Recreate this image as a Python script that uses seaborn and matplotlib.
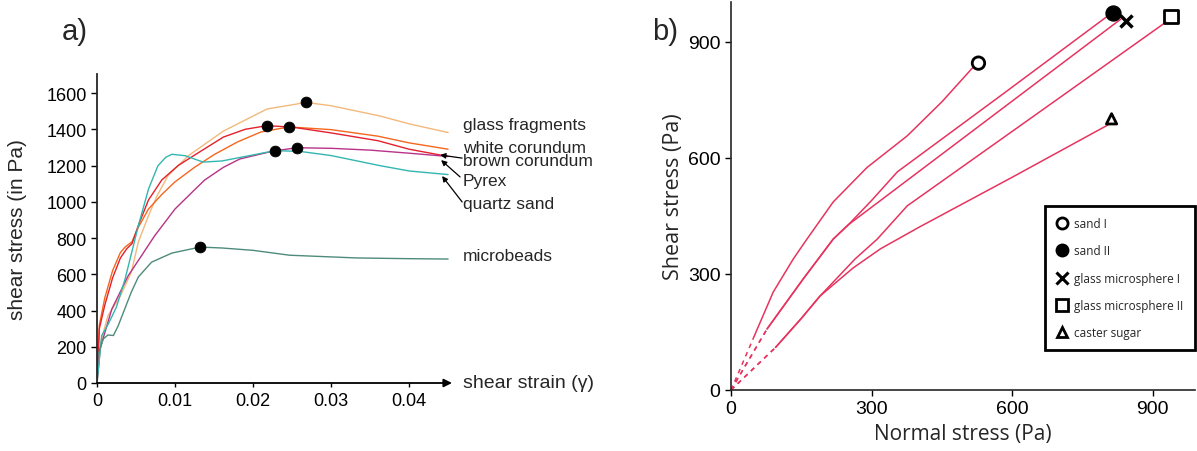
import numpy as np
import pandas as pd
import matplotlib.pyplot as plt
import seaborn as sns
from matplotlib.lines import Line2D

sns.set_style("ticks")
plt.rcParams["font.family"] = ["Liberation Sans", "DejaVu Sans"]

# ---------- panel a: shear stress vs shear strain ----------
glass_x = [0, 0.0005, 0.0014, 0.003, 0.0044, 0.0053, 0.0066, 0.0077, 0.0091, 0.0117,
           0.0162, 0.0218, 0.0268, 0.030, 0.0363, 0.040, 0.045]
glass_y = [0, 230, 371, 480, 612, 778, 923, 1033, 1144, 1254,
           1390, 1512, 1548, 1530, 1473, 1430, 1382]

white_x = [0, 0.0003, 0.001, 0.002, 0.003, 0.0036, 0.0045, 0.0053, 0.0066, 0.0083,
           0.010, 0.0125, 0.015, 0.018, 0.021, 0.0246, 0.030, 0.036, 0.040, 0.045]
white_y = [0, 320, 470, 620, 720, 750, 780, 860, 960, 1040,
           1110, 1190, 1260, 1330, 1385, 1413, 1398, 1362, 1325, 1290]

brown_x = [0, 0.0003, 0.001, 0.002, 0.003, 0.0038, 0.0045, 0.0053, 0.0066, 0.0083,
           0.0104, 0.0126, 0.0162, 0.019, 0.0218, 0.025, 0.030, 0.036, 0.040, 0.045]
brown_y = [0, 300, 430, 580, 690, 740, 770, 870, 1010, 1120,
           1200, 1260, 1357, 1400, 1420, 1412, 1380, 1337, 1290, 1250]

pyrex_x = [0, 0.0004, 0.0019, 0.004, 0.0057, 0.0074, 0.010, 0.0126, 0.0138, 0.0162,
           0.0183, 0.0226, 0.0256, 0.030, 0.035, 0.040, 0.045]
pyrex_y = [0, 190, 408, 592, 702, 813, 960, 1070, 1120, 1190,
           1236, 1280, 1298, 1295, 1285, 1268, 1250]

quartz_x = [0, 0.0006, 0.0015, 0.0025, 0.0036, 0.0053, 0.0066, 0.0078, 0.0088, 0.0096,
            0.0113, 0.0136, 0.016, 0.019, 0.0228, 0.026, 0.030, 0.0363, 0.040, 0.045]
quartz_y = [0, 261, 330, 420, 574, 868, 1070, 1198, 1245, 1262,
            1254, 1219, 1225, 1250, 1282, 1278, 1255, 1199, 1170, 1150]

micro_x = [0, 0.0001, 0.0008, 0.0014, 0.0021, 0.0027, 0.0044, 0.0053, 0.007, 0.0096,
           0.0132, 0.016, 0.020, 0.0247, 0.0333, 0.040, 0.045]
micro_y = [0, 149, 243, 265, 262, 314, 502, 585, 667, 717,
           750, 745, 732, 705, 690, 686, 684]

curves_a = {
    "glass fragments": (glass_x, glass_y, "#f2b97c"),
    "white corundum": (white_x, white_y, "#f5661e"),
    "brown corundum": (brown_x, brown_y, "#e3202c"),
    "Pyrex": (pyrex_x, pyrex_y, "#b83287"),
    "quartz sand": (quartz_x, quartz_y, "#33b6b0"),
    "microbeads": (micro_x, micro_y, "#4d8b7b"),
}
# label y positions (Pa) for the curve names at the right
label_y = {"glass fragments": 1429, "white corundum": 1302, "brown corundum": 1225,
           "Pyrex": 1120, "quartz sand": 993, "microbeads": 701}

# ---------- panel b: shear stress vs normal stress ----------
sand1_x = [0, 47, 90, 133, 162, 218, 290, 376, 450, 517]
sand1_y = [0, 132, 253, 339, 390, 486, 575, 657, 745, 835]
sand2_x = [0, 77, 154, 218, 248, 300, 355, 580, 804]
sand2_y = [0, 158, 287, 390, 424, 490, 564, 765, 967]
gm1_x = [0, 77, 154, 218, 248, 540, 832]
gm1_y = [0, 158, 287, 390, 425, 692, 959]
gm2_x = [0, 95, 150, 190, 265, 312, 376, 618, 928]
gm2_y = [0, 110, 185, 243, 339, 390, 476, 684, 951]
sugar_x = [0, 95, 150, 190, 260, 319, 400, 600, 804]
sugar_y = [0, 110, 185, 243, 315, 365, 420, 550, 685]

materials_b = ["sand I", "sand II", "glass microsphere I", "glass microsphere II", "caster sugar"]
lines_b = [(sand1_x, sand1_y), (sand2_x, sand2_y), (gm1_x, gm1_y), (gm2_x, gm2_y), (sugar_x, sugar_y)]
end_x = [528, 815, 842, 939, 812]
end_y = [845, 975, 955, 965, 701]
marker_b = {"sand I": ("o", "none"), "sand II": ("o", "k"), "glass microsphere I": ("x", "k"),
            "glass microsphere II": ("s", "none"), "caster sugar": ("^", "none")}
marker_size = {"sand I": 80, "sand II": 95, "glass microsphere I": 75,
               "glass microsphere II": 95, "caster sugar": 55}

fig = plt.figure(figsize=(11.97, 4.52), dpi=100)

# ===== panel a =====
ax = fig.add_axes([97 / 1197, 68 / 452, 355 / 1197, 309 / 452])
for name, (xs, ys, col) in curves_a.items():
    sns.lineplot(x=xs, y=ys, ax=ax, color=col, lw=1.0, sort=False, estimator=None)
    i = int(np.argmax(ys))
    sns.scatterplot(x=[xs[i]], y=[ys[i]], ax=ax, color="k", s=60, edgecolor="k", zorder=5)
    ax.text(0.04692, label_y[name], name, fontsize=12.5, va="center", ha="left", clip_on=False)

arrow_kw = dict(arrowstyle="-|>", color="k", lw=0.9, mutation_scale=8, shrinkA=0, shrinkB=0)
ax.annotate("", xy=(0.04397, 1258), xytext=(0.0468, 1241), arrowprops=arrow_kw, annotation_clip=False)
ax.annotate("", xy=(0.0441, 1230), xytext=(0.04654, 1137), arrowprops=arrow_kw, annotation_clip=False)
ax.annotate("", xy=(0.04423, 1142), xytext=(0.0468, 999), arrowprops=arrow_kw, annotation_clip=False)

ax.set_xlim(0, 0.0455)
ax.set_ylim(0, 1705)
ax.set_xticks([0, 0.01, 0.02, 0.03, 0.04])
ax.set_xticklabels(["0", "0.01", "0.02", "0.03", "0.04"])
ax.set_yticks(range(0, 1601, 200))
ax.tick_params(axis="both", labelsize=13, width=1, colors="k")
ax.tick_params(axis="y", length=4, direction="out")
ax.tick_params(axis="x", length=3, direction="out")
for s in ["top", "right", "bottom"]:
    ax.spines[s].set_visible(False)
ax.spines["left"].set_linewidth(1.3)
ax.annotate("", xy=(1, 0), xytext=(0, 0), xycoords="axes fraction",
            arrowprops=dict(arrowstyle="-|>", color="k", lw=1.3, mutation_scale=12, shrinkA=0, shrinkB=0))
ax.text(0.0469, 0, "shear strain (\u03b3)", fontsize=14, va="center", ha="left", clip_on=False)
ax.set_ylabel("shear stress (in Pa)", fontsize=15, labelpad=14)
ax.set_xlabel("")
fig.text(62 / 1197, 1 - 32 / 452, "a)", fontsize=21, va="center", ha="left")

# ===== panel b =====
bx = fig.add_axes([731 / 1197, 61 / 452, 464 / 1197, 388 / 452])
red = "#e6345f"
for (xs, ys) in lines_b:
    sns.lineplot(x=xs[:2], y=ys[:2], ax=bx, color=red, lw=1.1, linestyle=(0, (3, 3)),
                 sort=False, estimator=None)
    sns.lineplot(x=xs[1:], y=ys[1:], ax=bx, color=red, lw=1.1, sort=False, estimator=None)

handles = []
for name, mx, my in zip(materials_b, end_x, end_y):
    m, fc = marker_b[name]
    if m == "x":
        sns.scatterplot(x=[mx], y=[my], ax=bx, marker="x", color="k", s=marker_size[name],
                        linewidth=2.5, zorder=5)
        handles.append(Line2D([], [], marker="x", ls="none", color="k", mew=2.2, ms=8, label=name))
    else:
        sns.scatterplot(x=[mx], y=[my], ax=bx, marker=m, facecolor=fc, edgecolor="k",
                        s=marker_size[name], linewidth=2, zorder=5)
        handles.append(Line2D([], [], marker=m, ls="none", mfc=fc, mec="k", mew=2,
                              ms=8 if m != "^" else 7, label=name))

bx.set_xlim(0, 990)
bx.set_ylim(0, 1003)
bx.set_xticks([0, 300, 600, 900])
bx.set_yticks([0, 300, 600, 900])
bx.tick_params(axis="both", labelsize=14, length=4, width=1, direction="out", colors="k")
for s in ["top", "right"]:
    bx.spines[s].set_visible(False)
for s in ["left", "bottom"]:
    bx.spines[s].set_linewidth(1.2)
bx.set_xlabel("Normal stress (Pa)", fontsize=15, family=["Open Sans", "DejaVu Sans"], labelpad=4)
bx.set_ylabel("Shear stress (Pa)", fontsize=15.5, family=["Open Sans", "DejaVu Sans"], labelpad=3)
leg = bx.legend(handles=handles, loc="upper left", bbox_to_anchor=(0.677, 0.474),
                prop={"family": ["Open Sans", "DejaVu Sans"], "size": 8.5},
                frameon=True, fancybox=False, framealpha=1, edgecolor="k",
                labelspacing=1.2, handletextpad=0.5, borderpad=0.95, handlelength=1.0,
                borderaxespad=0)
leg.get_frame().set_linewidth(2)
fig.text(652 / 1197, 1 - 32 / 452, "b)", fontsize=21, va="center", ha="left")

fig.savefig("out.png", dpi=100)
